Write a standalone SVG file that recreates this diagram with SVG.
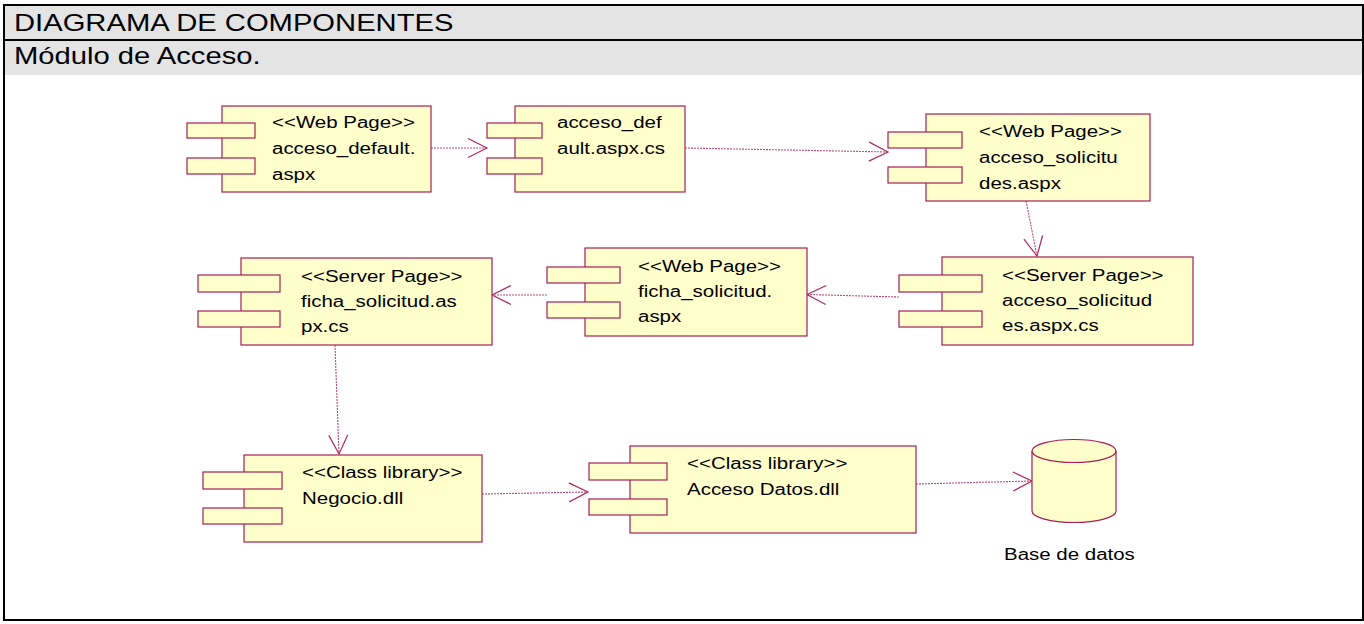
<svg xmlns="http://www.w3.org/2000/svg" width="1364" height="624" viewBox="0 0 1364 624">
<style>
.box{fill:#ffffcc;stroke:#a61e55;stroke-width:1.2}
.t{font-family:"Liberation Sans",Arial,sans-serif;font-size:16px;fill:#000}
.h{font-family:"Liberation Sans",Arial,sans-serif;font-size:23px;fill:#000}
.c{fill:none;stroke:#c04a7a;stroke-width:1.1;stroke-dasharray:2 1}
</style>
<defs>
<marker id="arr" markerUnits="userSpaceOnUse" markerWidth="26" markerHeight="26" viewBox="-22 -13 26 26" refX="0" refY="0" orient="auto">
<path d="M-19,-9.5 L0,0 L-19,9.5" fill="none" stroke="#b02a5e" stroke-width="1.2" stroke-dasharray="none"/>
</marker>
</defs>
<rect x="0" y="0" width="1364" height="624" fill="#fff"/>
<g id="frame">
<rect x="4" y="5" width="1359" height="70" fill="#e4e4e4"/>
<rect x="4" y="5" width="1359" height="615" fill="none" stroke="#000" stroke-width="2"/>
<line x1="4" y1="40" x2="1363" y2="40" stroke="#000" stroke-width="2"/>
<text class="h" transform="translate(14,31) scale(1.27,1)">DIAGRAMA DE COMPONENTES</text>
<text class="h" transform="translate(14,64) scale(1.27,1)">Módulo de Acceso.</text>
</g>
<g id="connectors">
<line class="c" x1="431" y1="148" x2="487" y2="148" marker-end="url(#arr)"/>
<line class="c" x1="685" y1="148" x2="888" y2="152" marker-end="url(#arr)"/>
<line class="c" x1="1026" y1="201" x2="1037" y2="256" marker-end="url(#arr)"/>
<line class="c" x1="899" y1="297" x2="807" y2="294.5" marker-end="url(#arr)"/>
<line class="c" x1="547" y1="295" x2="492" y2="295" marker-end="url(#arr)"/>
<line class="c" x1="335" y1="345" x2="339" y2="454" marker-end="url(#arr)"/>
<line class="c" x1="482" y1="494" x2="588" y2="492" marker-end="url(#arr)"/>
<line class="c" x1="916" y1="484" x2="1032" y2="481" marker-end="url(#arr)"/>
</g>
<g id="acceso_default_aspx">
<rect class="box" x="222" y="106" width="209" height="86"/>
<rect class="box" x="187" y="123" width="68" height="15"/>
<rect class="box" x="187" y="158" width="68" height="16"/>
<text class="t" transform="translate(272,128) scale(1.28,1)"><tspan x="0" y="0">&lt;&lt;Web Page&gt;&gt;</tspan><tspan x="0" y="26">acceso_default.</tspan><tspan x="0" y="52">aspx</tspan></text>
</g>
<g id="acceso_default_aspx_cs">
<rect class="box" x="515" y="106" width="170" height="86"/>
<rect class="box" x="487" y="123" width="55" height="15"/>
<rect class="box" x="487" y="158" width="55" height="16"/>
<text class="t" transform="translate(557,128) scale(1.28,1)"><tspan x="0" y="0">acceso_def</tspan><tspan x="0" y="26">ault.aspx.cs</tspan></text>
</g>
<g id="acceso_solicitudes_aspx">
<rect class="box" x="926" y="114" width="224" height="87"/>
<rect class="box" x="888" y="132" width="74" height="16"/>
<rect class="box" x="888" y="167" width="74" height="16"/>
<text class="t" transform="translate(979,137) scale(1.28,1)"><tspan x="0" y="0">&lt;&lt;Web Page&gt;&gt;</tspan><tspan x="0" y="26">acceso_solicitu</tspan><tspan x="0" y="52">des.aspx</tspan></text>
</g>
<g id="acceso_solicitudes_aspx_cs">
<rect class="box" x="942" y="257" width="251" height="88"/>
<rect class="box" x="899" y="275" width="83" height="17"/>
<rect class="box" x="899" y="311" width="83" height="16"/>
<text class="t" transform="translate(1002,281) scale(1.28,1)"><tspan x="0" y="0">&lt;&lt;Server Page&gt;&gt;</tspan><tspan x="0" y="25">acceso_solicitud</tspan><tspan x="0" y="50">es.aspx.cs</tspan></text>
</g>
<g id="ficha_solicitud_aspx">
<rect class="box" x="585" y="248" width="222" height="88"/>
<rect class="box" x="547" y="267" width="73" height="16"/>
<rect class="box" x="547" y="302" width="73" height="16"/>
<text class="t" transform="translate(638,272) scale(1.28,1)"><tspan x="0" y="0">&lt;&lt;Web Page&gt;&gt;</tspan><tspan x="0" y="25">ficha_solicitud.</tspan><tspan x="0" y="50">aspx</tspan></text>
</g>
<g id="ficha_solicitud_aspx_cs">
<rect class="box" x="241" y="258" width="251" height="87"/>
<rect class="box" x="198" y="275" width="82" height="17"/>
<rect class="box" x="198" y="311" width="82" height="16"/>
<text class="t" transform="translate(301,282) scale(1.28,1)"><tspan x="0" y="0">&lt;&lt;Server Page&gt;&gt;</tspan><tspan x="0" y="25">ficha_solicitud.as</tspan><tspan x="0" y="50">px.cs</tspan></text>
</g>
<g id="negocio_dll">
<rect class="box" x="244" y="455" width="238" height="87"/>
<rect class="box" x="203" y="472" width="79" height="17"/>
<rect class="box" x="203" y="508" width="79" height="16"/>
<text class="t" transform="translate(302,478) scale(1.28,1)"><tspan x="0" y="0">&lt;&lt;Class library&gt;&gt;</tspan><tspan x="0" y="26">Negocio.dll</tspan></text>
</g>
<g id="acceso_datos_dll">
<rect class="box" x="630" y="446" width="286" height="87"/>
<rect class="box" x="589" y="463" width="78" height="17"/>
<rect class="box" x="589" y="499" width="78" height="16"/>
<text class="t" transform="translate(687,469) scale(1.28,1)"><tspan x="0" y="0">&lt;&lt;Class library&gt;&gt;</tspan><tspan x="0" y="26">Acceso Datos.dll</tspan></text>
</g>
<g id="base_de_datos">
<path class="box" d="M1032,451 L1032,511 A42,11.5 0 0 0 1116,511 L1116,451 A42,11.5 0 0 0 1032,451 Z"/>
<path d="M1032,451 A42,11.5 0 0 0 1116,451" fill="none" stroke="#a61e55" stroke-width="1.2"/>
<text class="t" transform="translate(1004,560) scale(1.28,1)">Base de datos</text>
</g>
</svg>
